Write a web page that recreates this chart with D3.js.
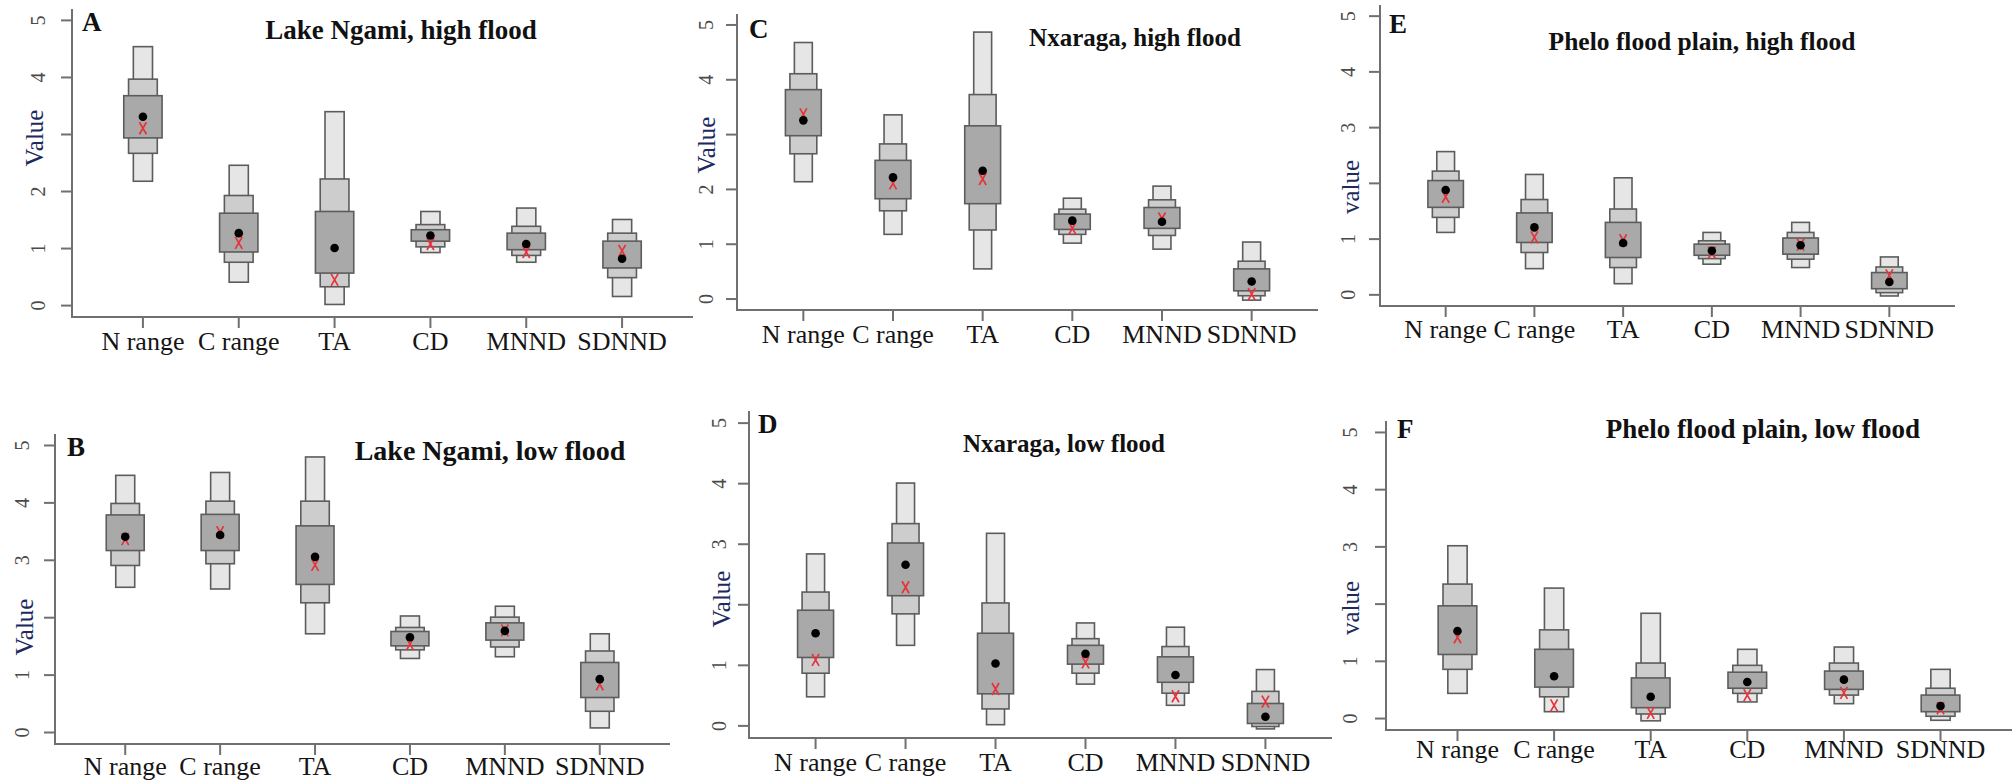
<!DOCTYPE html>
<html>
<head>
<meta charset="utf-8">
<script src="https://cdn.jsdelivr.net/npm/d3@7"></script>
<style>
  html, body { margin: 0; padding: 0; background: #fff; }
  svg { display: block; }
  text { font-family: "Liberation Serif", "Times New Roman", serif; }
</style>
</head>
<body>
<svg id="chart" width="2015" height="783"></svg>
<script>
// metric names on the x axis
var categories = ["N range", "C range", "TA", "CD", "MNND", "SDNND"];
var yTicks = [0, 1, 2, 3, 4, 5];

// each row: [outerLo, midLo, innerLo, innerHi, midHi, outerHi, dot, cross]
var ngamiHigh = [
  [2.18, 2.67, 2.94, 3.68, 3.97, 4.54, 3.31, 3.11],
  [0.41, 0.76, 0.94, 1.62, 1.93, 2.46, 1.27, 1.10],
  [0.02, 0.33, 0.57, 1.65, 2.22, 3.40, 1.01, 0.45],
  [0.93, 1.03, 1.13, 1.33, 1.42, 1.65, 1.23, 1.08],
  [0.76, 0.88, 0.98, 1.27, 1.39, 1.71, 1.08, 0.94],
  [0.16, 0.49, 0.66, 1.13, 1.27, 1.51, 0.82, 0.96]
];
var ngamiLow = [
  [2.53, 2.91, 3.17, 3.79, 3.99, 4.48, 3.41, 3.37],
  [2.50, 2.94, 3.17, 3.80, 4.03, 4.53, 3.44, 3.49],
  [1.72, 2.26, 2.58, 3.60, 4.03, 4.80, 3.06, 2.92],
  [1.29, 1.44, 1.51, 1.76, 1.83, 2.03, 1.66, 1.54],
  [1.32, 1.49, 1.61, 1.91, 2.01, 2.20, 1.77, 1.78],
  [0.08, 0.37, 0.61, 1.22, 1.42, 1.72, 0.93, 0.84]
];
var nxaragaHigh = [
  [2.14, 2.65, 2.98, 3.82, 4.11, 4.68, 3.26, 3.37],
  [1.18, 1.61, 1.83, 2.53, 2.83, 3.36, 2.22, 2.11],
  [0.55, 1.26, 1.74, 3.16, 3.73, 4.87, 2.34, 2.19],
  [1.02, 1.18, 1.27, 1.55, 1.64, 1.84, 1.43, 1.29],
  [0.91, 1.16, 1.29, 1.67, 1.81, 2.06, 1.41, 1.47],
  [-0.02, 0.06, 0.15, 0.55, 0.69, 1.04, 0.32, 0.09]
];
var nxaragaLow = [
  [0.48, 0.87, 1.13, 1.91, 2.21, 2.84, 1.53, 1.09],
  [1.33, 1.85, 2.15, 3.02, 3.34, 4.01, 2.66, 2.29],
  [0.02, 0.28, 0.53, 1.53, 2.03, 3.18, 1.03, 0.61],
  [0.69, 0.87, 1.02, 1.33, 1.44, 1.70, 1.19, 1.05],
  [0.34, 0.54, 0.72, 1.14, 1.31, 1.63, 0.84, 0.49],
  [-0.05, -0.01, 0.04, 0.37, 0.57, 0.93, 0.15, 0.40]
];
var pheloHigh = [
  [1.12, 1.39, 1.57, 2.05, 2.22, 2.57, 1.88, 1.76],
  [0.47, 0.76, 0.94, 1.47, 1.71, 2.16, 1.21, 1.03],
  [0.20, 0.49, 0.67, 1.30, 1.54, 2.10, 0.93, 0.98],
  [0.55, 0.65, 0.71, 0.91, 0.97, 1.12, 0.79, 0.76],
  [0.49, 0.64, 0.73, 1.02, 1.12, 1.30, 0.89, 0.90],
  [-0.02, 0.04, 0.11, 0.40, 0.50, 0.68, 0.23, 0.35]
];
var pheloLow = [
  [0.44, 0.86, 1.12, 1.97, 2.35, 3.02, 1.53, 1.42],
  [0.12, 0.38, 0.55, 1.21, 1.55, 2.28, 0.74, 0.23],
  [-0.04, 0.08, 0.19, 0.71, 0.97, 1.84, 0.38, 0.10],
  [0.29, 0.44, 0.53, 0.81, 0.93, 1.21, 0.64, 0.41],
  [0.26, 0.41, 0.51, 0.83, 0.97, 1.25, 0.68, 0.45],
  [-0.03, 0.04, 0.12, 0.41, 0.53, 0.86, 0.22, 0.18]
];

// panel layout (pixel boxes are where each R plot sat in the composite)
var panels = [
  {letter: "A", title: "Lake Ngami, high flood", data: ngamiHigh, yLab: "Value",
   left: 72, right: 693, top: 9, bottom: 317, labX: 38, yLabX: 34, yLabY: 138, hide: 3,
   titleX: 401, titleY: 39, titleSize: 27, letterX: 82, letterY: 31, catY: 350},
  {letter: "C", title: "Nxaraga, high flood", data: nxaragaHigh, yLab: "Value",
   left: 737, right: 1318, top: 14, bottom: 310, labX: 706, yLabX: 706, yLabY: 145, hide: 3,
   titleX: 1135, titleY: 46, titleSize: 25, letterX: 749, letterY: 38, catY: 343},
  {letter: "E", title: "Phelo flood plain, high flood", data: pheloHigh, yLab: "value",
   left: 1380, right: 1955, top: 5, bottom: 306, labX: 1348, yLabX: 1350, yLabY: 187, hide: 2,
   titleX: 1702, titleY: 50, titleSize: 25.5, letterX: 1389, letterY: 33, catY: 338},
  {letter: "B", title: "Lake Ngami, low flood", data: ngamiLow, yLab: "Value",
   left: 55, right: 670, top: 434, bottom: 744, labX: 22, yLabX: 24, yLabY: 627, hide: 2,
   titleX: 490, titleY: 460, titleSize: 28, letterX: 67, letterY: 456, catY: 775},
  {letter: "D", title: "Nxaraga, low flood", data: nxaragaLow, yLab: "Value",
   left: 749, right: 1332, top: 411, bottom: 738, labX: 719, yLabX: 721, yLabY: 599, hide: 2,
   titleX: 1064, titleY: 452, titleSize: 25, letterX: 758, letterY: 433, catY: 771},
  {letter: "F", title: "Phelo flood plain, low flood", data: pheloLow, yLab: "value",
   left: 1386, right: 2012, top: 421, bottom: 730, labX: 1350, yLabX: 1350, yLabY: 608, hide: 2,
   titleX: 1763, titleY: 438, titleSize: 27, letterX: 1397, letterY: 438, catY: 758}
];

var axisCol = "#707070";
var levels = [
  {lo: 0, hi: 5, w: 0.2, fill: "#e6e6e6"},
  {lo: 1, hi: 4, w: 0.3, fill: "#cdcdcd"},
  {lo: 2, hi: 3, w: 0.4, fill: "#a9a9a9"}
];

var svg = d3.select("#chart");

panels.forEach(function(p) {
  var g = svg.append("g");

  var x = d3.scalePoint().domain(categories).range([p.left, p.right]).padding(0.74);
  var y = d3.scaleLinear().domain([-0.2, 5.2]).range([p.bottom, p.top]);
  var step = x.step();

  // L shaped frame
  g.append("path")
    .attr("d", "M" + p.left + "," + p.top + "V" + p.bottom + "H" + p.right)
    .attr("fill", "none").attr("stroke", axisCol).attr("stroke-width", 2);

  // y ticks
  g.selectAll(".yt").data(yTicks).enter().append("line")
    .attr("x1", p.left - 11).attr("x2", p.left)
    .attr("y1", function(d) { return y(d); }).attr("y2", function(d) { return y(d); })
    .attr("stroke", axisCol).attr("stroke-width", 2);

  g.selectAll(".yl").data(yTicks.filter(function(d) { return d !== p.hide; })).enter().append("text")
    .attr("transform", function(d) { return "translate(" + p.labX + "," + y(d) + ") rotate(-90)"; })
    .attr("text-anchor", "middle").attr("dominant-baseline", "central")
    .attr("font-size", 20).attr("fill", "#4a4a4a")
    .text(function(d) { return d; });

  g.append("text")
    .attr("transform", "translate(" + p.yLabX + "," + p.yLabY + ") rotate(-90)")
    .attr("text-anchor", "middle").attr("dominant-baseline", "central")
    .attr("font-size", 25).attr("fill", "#1c2a5e")
    .text(p.yLab);

  // x ticks + labels
  g.selectAll(".xt").data(categories).enter().append("line")
    .attr("x1", function(d) { return x(d); }).attr("x2", function(d) { return x(d); })
    .attr("y1", p.bottom).attr("y2", p.bottom + 11)
    .attr("stroke", axisCol).attr("stroke-width", 2);

  g.selectAll(".xl").data(categories).enter().append("text")
    .attr("x", function(d) { return x(d); }).attr("y", p.catY)
    .attr("text-anchor", "middle").attr("font-size", 26).attr("fill", "#151515")
    .text(function(d) { return d; });

  // title and panel letter
  g.append("text")
    .attr("x", p.titleX).attr("y", p.titleY).attr("text-anchor", "middle")
    .attr("font-size", p.titleSize).attr("font-weight", "bold").attr("fill", "#111")
    .text(p.title);
  g.append("text")
    .attr("x", p.letterX).attr("y", p.letterY)
    .attr("font-size", 27).attr("font-weight", "bold").attr("fill", "#111")
    .text(p.letter);

  // letter value boxes
  var groups = g.selectAll(".lv").data(p.data).enter().append("g")
    .attr("transform", function(d, i) { return "translate(" + x(categories[i]) + ",0)"; });

  levels.forEach(function(lv) {
    groups.append("rect")
      .attr("x", -lv.w * step / 2)
      .attr("width", lv.w * step)
      .attr("y", function(d) { return y(d[lv.hi]); })
      .attr("height", function(d) { return y(d[lv.lo]) - y(d[lv.hi]); })
      .attr("fill", lv.fill).attr("stroke", "#5c5c5c").attr("stroke-width", 1.6);
  });

  // red cross
  groups.append("path")
    .attr("d", function(d) {
      var cy = y(d[7]);
      return "M-3.5," + (cy - 6) + "L3.5," + (cy + 6) + "M3.5," + (cy - 6) + "L-3.5," + (cy + 6);
    })
    .attr("stroke", "#e8323a").attr("stroke-width", 1.7).attr("fill", "none");

  // black dot
  groups.append("circle")
    .attr("cx", 0).attr("cy", function(d) { return y(d[6]); })
    .attr("r", 4.3).attr("fill", "#000");
});
</script>
</body>
</html>
